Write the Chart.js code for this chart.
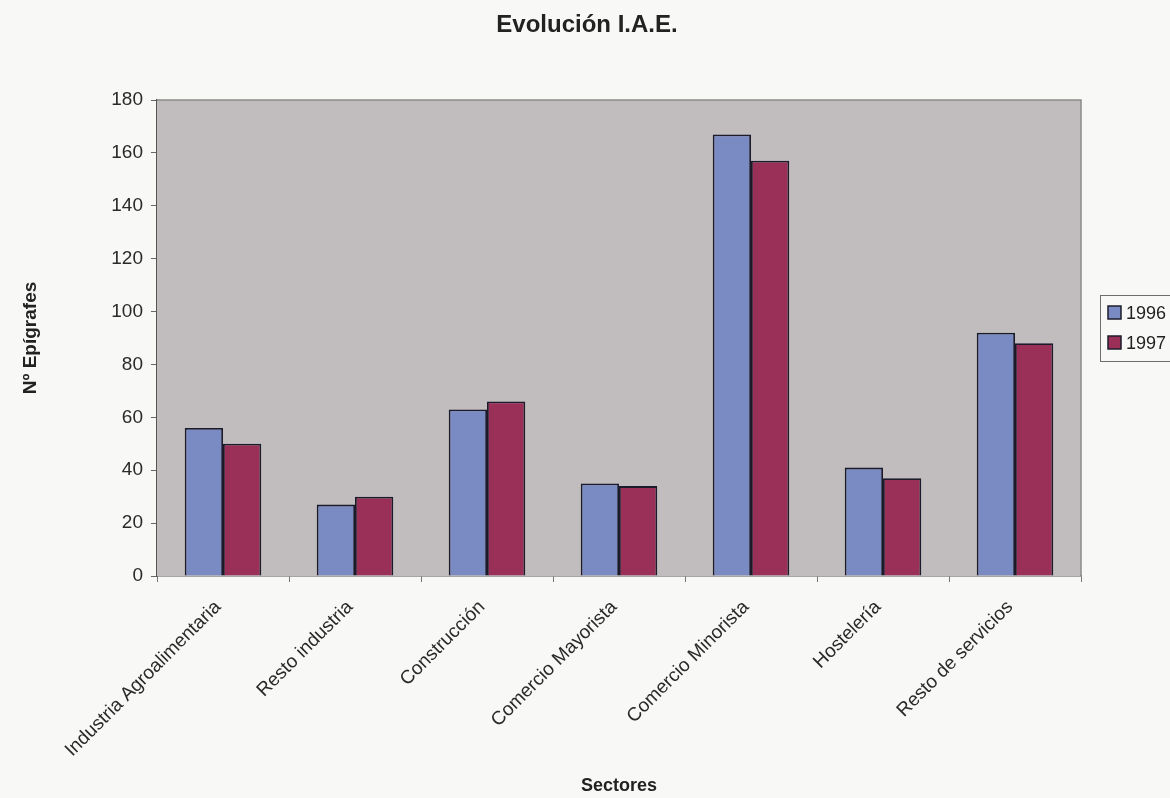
<!DOCTYPE html>
<html>
<head>
<meta charset="utf-8">
<title>Evolución I.A.E.</title>
<script src="https://cdn.jsdelivr.net/npm/chart.js@4/dist/chart.umd.min.js"></script>
<style>
  html, body { margin: 0; padding: 0; background: #f8f8f7; }
  #wrap { width: 1170px; height: 798px; position: relative; }
</style>
</head>
<body>
<div id="wrap"><canvas id="c" width="1170" height="798"></canvas></div>
<script>
// Sectores económicos y número de epígrafes del I.A.E. por año
const sectores = [
  'Industria Agroalimentaria',
  'Resto industria',
  'Construcción',
  'Comercio Mayorista',
  'Comercio Minorista',
  'Hostelería',
  'Resto de servicios'
];
const epigrafes1996 = [56, 27, 63, 35, 167, 41, 92];
const epigrafes1997 = [50, 30, 66, 34, 157, 37, 88];
const anios = ['1996', '1997'];
const yTicks = [0, 20, 40, 60, 80, 100, 120, 140, 160, 180];
const titulo = 'Evolución I.A.E.';

const FONT = "'Liberation Sans', Arial, Helvetica, sans-serif";

// Título centrado en la página
const pageTitle = {
  id: 'pageTitle',
  afterDraw(chart) {
    const { ctx } = chart;
    ctx.save();
    ctx.fillStyle = '#222';
    ctx.font = 'bold 24px ' + FONT;
    ctx.textAlign = 'center';
    ctx.textBaseline = 'middle';
    ctx.fillText(titulo, chart.width / 2 + 2, 25);
    ctx.restore();
  }
};

// Fondo gris del área de trazado y marco superior/derecho
const plotFrame = {
  id: 'plotFrame',
  beforeDatasetsDraw(chart) {
    const { ctx, chartArea: a } = chart;
    ctx.save();
    ctx.fillStyle = '#c1bdbe';
    ctx.fillRect(a.left, a.top, a.right - a.left, a.bottom - a.top);
    ctx.strokeStyle = '#8c8a8b';
    ctx.lineWidth = 1.5;
    ctx.beginPath();
    ctx.moveTo(a.left, a.top);
    ctx.lineTo(a.right, a.top);
    ctx.lineTo(a.right, a.bottom);
    ctx.stroke();
    ctx.restore();
  }
};

// Leyenda enmarcada a la derecha del gráfico
const boxLegend = {
  id: 'boxLegend',
  afterDraw(chart) {
    const { ctx, chartArea: a } = chart;
    const x0 = a.right + 19;
    const y0 = 295;
    const rowH = 30;
    ctx.save();
    ctx.strokeStyle = '#6d6d6d';
    ctx.lineWidth = 1;
    ctx.strokeRect(x0 + 0.5, y0 + 0.5, 120, rowH * chart.data.datasets.length + 6);
    chart.data.datasets.forEach((ds, i) => {
      const cy = y0 + 18 + i * rowH;
      ctx.fillStyle = ds.backgroundColor;
      ctx.fillRect(x0 + 8, cy - 7, 13, 13);
      ctx.strokeStyle = '#1d1d2b';
      ctx.lineWidth = 1.5;
      ctx.strokeRect(x0 + 8, cy - 7, 13, 13);
      ctx.fillStyle = '#222';
      ctx.font = '18px ' + FONT;
      ctx.textBaseline = 'middle';
      ctx.textAlign = 'left';
      ctx.fillText(ds.label, x0 + 26, cy + 1);
    });
    ctx.restore();
  }
};

new Chart(document.getElementById('c'), {
  type: 'bar',
  data: {
    labels: sectores,
    datasets: [
      {
        label: anios[0],
        data: epigrafes1996,
        backgroundColor: '#7a8bc3',
        borderColor: '#1b1b2c',
        borderWidth: 1.8
      },
      {
        label: anios[1],
        data: epigrafes1997,
        backgroundColor: '#9a2f57',
        borderColor: '#1b1b2c',
        borderWidth: 1.8
      }
    ]
  },
  options: {
    responsive: false,
    animation: false,
    devicePixelRatio: 1,
    layout: { padding: { left: 0, right: 89, top: 100, bottom: 0 } },
    datasets: {
      bar: { categoryPercentage: 0.58, barPercentage: 1.0 }
    },
    plugins: {
      legend: { display: false },
      tooltip: { enabled: false },
      title: { display: false }
    },
    scales: {
      x: {
        offset: true,
        grid: {
          display: true,
          offset: true,
          drawOnChartArea: false,
          tickLength: 6,
          color: '#777'
        },
        border: { display: true, color: '#555', width: 1.5 },
        ticks: {
          color: '#2a2a2a',
          font: { family: FONT, size: 19 },
          minRotation: 45,
          maxRotation: 45,
          padding: 14,
          labelOffset: -5,
          autoSkip: false
        },
        title: {
          display: true,
          text: 'Sectores',
          color: '#222',
          font: { family: FONT, size: 18, weight: 'bold' },
          padding: { top: 0, bottom: 1 }
        },
        afterFit(scale) { scale.height = 222; }
      },
      y: {
        min: 0,
        max: 180,
        afterBuildTicks(scale) { scale.ticks = yTicks.map(v => ({ value: v })); },
        grid: {
          display: true,
          drawOnChartArea: false,
          tickLength: 6,
          color: '#666'
        },
        border: { display: true, color: '#555', width: 1.5 },
        ticks: {
          color: '#2a2a2a',
          font: { family: FONT, size: 19 },
          padding: 8
        },
        title: {
          display: true,
          text: 'Nº Epígrafes',
          color: '#222',
          font: { family: FONT, size: 19, weight: 'bold' },
          padding: { top: 19, bottom: 0 }
        },
        afterFit(scale) { scale.width = 157; }
      }
    }
  },
  plugins: [plotFrame, boxLegend, pageTitle]
});
</script>
</body>
</html>
